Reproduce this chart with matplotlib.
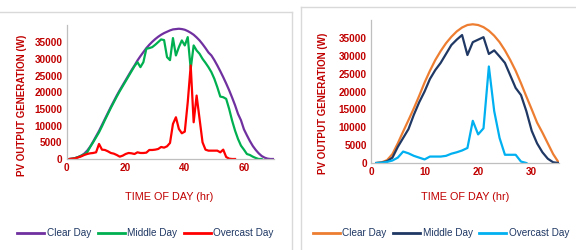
import matplotlib
matplotlib.use("Agg")
import matplotlib.pyplot as plt
from matplotlib.lines import Line2D

plt.rcParams['font.family'] = ['Liberation Sans', 'DejaVu Sans']

# ---------------- data: left chart (30-min resolution) ----------------
left_x_clear = list(range(1, 71))
left_clear = [0, 100, 300, 600, 1000, 1600, 2500, 3700, 5200, 6800,
              8400, 10200, 12000, 13800, 15600, 17300, 19000, 20600, 22100, 23600,
              25100, 26600, 28000, 29500, 30800, 32000, 33200, 34200, 35100, 35900,
              36600, 37200, 37700, 38100, 38500, 38800, 38900, 39000, 38900, 38700,
              38300, 37800, 37200, 36400, 35500, 34400, 33200, 31900, 31000, 29600,
              28000, 26300, 24500, 22600, 20600, 18400, 16100, 13500, 11600, 8900,
              7100, 5400, 3900, 2700, 1700, 900, 400, 100, 0, 0]

left_x_middle = list(range(1, 67))
left_middle = [0, 100, 300, 600, 1000, 1400, 2000, 3600, 5000, 6500,
               8000, 9800, 11700, 13500, 15300, 17000, 18700, 20300, 21800, 23300,
               24800, 26300, 27800, 29000, 27500, 29000, 33000, 33200, 33500, 34200,
               35000, 35800, 35600, 30500, 29600, 36200, 31000, 33500, 35500, 34000,
               36500, 27000, 34000, 32500, 31500, 30000, 28800, 27500, 26000, 24000,
               21500, 18700, 18500, 18000, 15000, 11500, 8500, 6000, 4000, 2800,
               1500, 1200, 700, 300, 0, 0]

left_x_overcast = list(range(1, 58))
left_overcast = [0, 100, 200, 500, 800, 1200, 1500, 1700, 1800, 2000,
                 4500, 2800, 2700, 2300, 1800, 1600, 1200, 700, 1000, 1500,
                 1800, 1700, 1500, 2000, 1800, 1800, 1900, 2700, 2700, 2800,
                 3000, 3600, 3400, 3800, 4800, 10500, 12500, 9000, 7700, 8200,
                 17000, 28000, 11000, 19000, 12000, 5000, 2800, 2500, 2500, 2500,
                 2500, 2000, 2800, 600, 100, 0, 0]

# ---------------- data: right chart (hourly resolution) ----------------
right_x_clear = list(range(1, 36))
right_clear = [0, 200, 800, 2500, 5500, 8800, 12000, 15300, 18800, 22500,
               25800, 28800, 31300, 33500, 35300, 36800, 37900, 38600, 38800, 38600,
               38000, 37000, 35600, 33800, 31500, 28800, 25800, 22300, 18600, 15000,
               11300, 8500, 5500, 2500, 200]

right_x_middle = list(range(1, 36))
right_middle = [0, 100, 500, 1500, 4500, 7000, 9500, 13500, 17000, 20000,
                23500, 26000, 28000, 30500, 33000, 34500, 35800, 30200, 33800, 34500,
                35200, 30500, 31500, 29800, 28000, 24500, 21000, 19000, 14500, 9000,
                5500, 3000, 1200, 200, 0]

right_x_overcast = list(range(1, 30))
right_overcast = [0, 100, 300, 700, 1500, 3200, 2700, 2000, 1500, 1000,
                  1800, 1800, 1800, 2000, 2600, 3000, 3500, 4200, 11800, 8000,
                  9700, 27000, 14500, 7000, 2300, 2300, 2300, 400, 0]

yticks = [0, 5000, 10000, 15000, 20000, 25000, 30000, 35000]
left_xticks = [0, 20, 40, 60]
right_xticks = [0, 10, 20, 30]
series_names = ['Clear Day', 'Middle Day', 'Overcast Day']

# ---------------- styling ----------------
W, H = 576, 250
fig = plt.figure(figsize=(W / 100, H / 100), dpi=100)
red = '#C00000'
legend_col = '#1F3864'
axis_col = '#BFBFBF'
frame_col = '#D9D9D9'
lw = 1.6


def px2fig(x0, y0, x1, y1):
    return [x0 / W, 1 - y1 / H, (x1 - x0) / W, (y1 - y0) / H]


# panel frames
fig.add_artist(Line2D([0, 292 / W], [1 - 12 / H, 1 - 12 / H], color=frame_col, lw=1))
fig.add_artist(Line2D([292 / W, 292 / W], [0, 1 - 12 / H], color=frame_col, lw=1))
fig.add_artist(Line2D([301 / W, 1], [1 - 7 / H, 1 - 7 / H], color=frame_col, lw=1))
fig.add_artist(Line2D([301 / W, 301 / W], [0, 1 - 7 / H], color=frame_col, lw=1))


def style_axes(ax, xlim, xticks):
    ax.set_xlim(*xlim)
    ax.set_ylim(0, 40000)
    ax.set_xticks(xticks)
    ax.set_yticks(yticks)
    for s in ['top', 'right']:
        ax.spines[s].set_visible(False)
    for s in ['left', 'bottom']:
        ax.spines[s].set_color(axis_col)
        ax.spines[s].set_linewidth(0.9)
    ax.tick_params(length=0, colors=red, labelsize=7.2, pad=3)
    for lab in ax.get_xticklabels() + ax.get_yticklabels():
        lab.set_fontweight('bold')
    ax.patch.set_alpha(0)


# left chart
axL = fig.add_axes(px2fig(66.5, 25.4, 273.5, 159))
lc = ['#7030A0', '#00B050', '#FF0000']
axL.plot(left_x_clear, left_clear, color=lc[0], lw=lw)
axL.plot(left_x_middle, left_middle, color=lc[1], lw=lw)
axL.plot(left_x_overcast, left_overcast, color=lc[2], lw=lw)
style_axes(axL, (0, 70), left_xticks)

# right chart
axR = fig.add_axes(px2fig(371, 20, 558.5, 163))
rc = ['#ED7D31', '#1F3864', '#00B0F0']
axR.plot(right_x_clear, right_clear, color=rc[0], lw=lw)
axR.plot(right_x_middle, right_middle, color=rc[1], lw=lw)
axR.plot(right_x_overcast, right_overcast, color=rc[2], lw=lw)
style_axes(axR, (0, 35), right_xticks)

# axis titles
lab_kw = dict(color=red, fontsize=7.0, fontweight='bold', ha='center', va='center')
fig.text(22 / W, 1 - 105 / H, 'PV OUTPUT GENERATION (W)', rotation=90, **lab_kw)
fig.text(323 / W, 1 - 103 / H, 'PV OUTPUT GENERATION (W)', rotation=90, **lab_kw)
xl_kw = dict(color=red, fontsize=7.8, ha='center', va='center')
fig.text(169 / W, 1 - 197 / H, 'TIME OF DAY (hr)', **xl_kw)
fig.text(465 / W, 1 - 197 / H, 'TIME OF DAY (hr)', **xl_kw)

# legends
leg_kw = dict(ncol=3, frameon=False, fontsize=7.2, handlelength=2.7,
              handletextpad=0.25, columnspacing=0.65, borderpad=0, loc='center',
              labelcolor=legend_col)
hL = [Line2D([], [], color=c, lw=2) for c in lc]
hR = [Line2D([], [], color=c, lw=2) for c in rc]
fig.legend(hL, series_names, bbox_to_anchor=(145.5 / W, 1 - 233 / H), **leg_kw)
fig.legend(hR, series_names, bbox_to_anchor=(441 / W, 1 - 233 / H), **leg_kw)

fig.savefig('out.png', dpi=100)
